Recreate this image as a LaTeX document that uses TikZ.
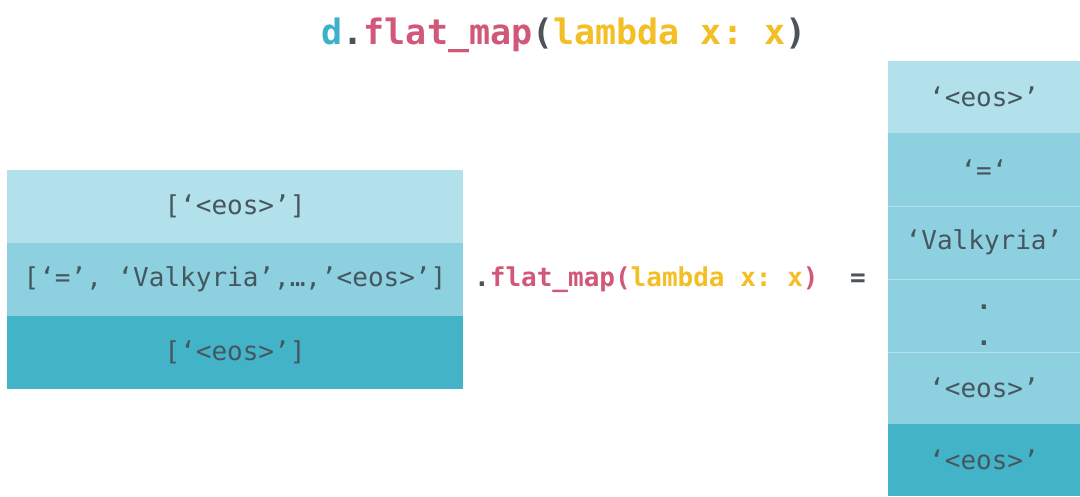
\documentclass[tikz,border=0pt]{standalone}
\usepackage{fontspec}
\setmonofont{DejaVu Sans Mono}
\definecolor{cLight}{HTML}{B3E1EB}
\definecolor{cMid}{HTML}{8DD0E0}
\definecolor{cDark}{HTML}{43B3C8}
\definecolor{cText}{HTML}{46565F}
\definecolor{cTeal}{HTML}{3DB1CA}
\definecolor{cRed}{HTML}{D2587A}
\definecolor{cYel}{HTML}{F3BF24}
\definecolor{cGray}{HTML}{4E5357}
\tikzset{
  cell/.style={rectangle, inner sep=0pt, text=cText, font=\ttfamily\fontsize{26}{30}\selectfont},
  lcell/.style={cell, minimum width=456pt, minimum height=73pt},
  rcell/.style={cell, minimum width=192pt, minimum height=73pt},
  code/.style={inner sep=0pt, font=\ttfamily\bfseries\fontsize{26}{30}\selectfont},
  title/.style={inner sep=0pt, font=\ttfamily\bfseries\fontsize{35}{40}\selectfont},
  sep/.style={draw=white, draw opacity=0.35, line width=1pt}
}
\begin{document}
\begin{tikzpicture}[x=1pt,y=-1pt]
\useasboundingbox[fill=white] (0,0) rectangle (1080,496);
% title
\node[title] (title) at (564,35) {\textcolor{cTeal}{d}\textcolor{cGray}{.}\textcolor{cRed}{flat\_map}\textcolor{cGray}{(}\textcolor{cYel}{lambda x: x}\textcolor{cGray}{)}};
% left column
\node[lcell, fill=cLight] (l1) at (235,206.5) {[‘<eos>’]};
\node[lcell, fill=cMid]   (l2) at (235,279.5) {[‘=’, ‘Valkyria’,…,’<eos>’]};
\node[lcell, fill=cDark]  (l3) at (235,352)   {[‘<eos>’]};
% middle label
\node[code, anchor=west] (op) at (474,280) {\textcolor{cGray}{.}\textcolor{cRed}{flat\_map(}\textcolor{cYel}{lambda x: x}\textcolor{cRed}{)}};
\node[code, text=cGray] (eq) at (858,280) {=};
% right column
\node[rcell, fill=cLight] (r1) at (984,97)    {‘<eos>’};
\node[rcell, fill=cMid]   (r2) at (984,169.5) {‘=‘};
\node[rcell, fill=cMid]   (r3) at (984,242.5) {‘Valkyria’};
\node[rcell, fill=cMid]   (r4) at (984,315.5) {};
\node[rcell, fill=cMid]   (r5) at (984,388)   {‘<eos>’};
\node[rcell, fill=cDark, minimum height=72pt] (r6) at (984,460) {‘<eos>’};
\node[cell, font=\ttfamily\bfseries\fontsize{26}{30}\selectfont] (d1) at (984,307) {.};
\node[cell, font=\ttfamily\bfseries\fontsize{26}{30}\selectfont] (d2) at (984,343) {.};
\draw[sep] (r2.south west) -- (r2.south east);
\draw[sep] (r3.south west) -- (r3.south east);
\draw[sep] (r4.south west) -- (r4.south east);
\end{tikzpicture}
\end{document}
